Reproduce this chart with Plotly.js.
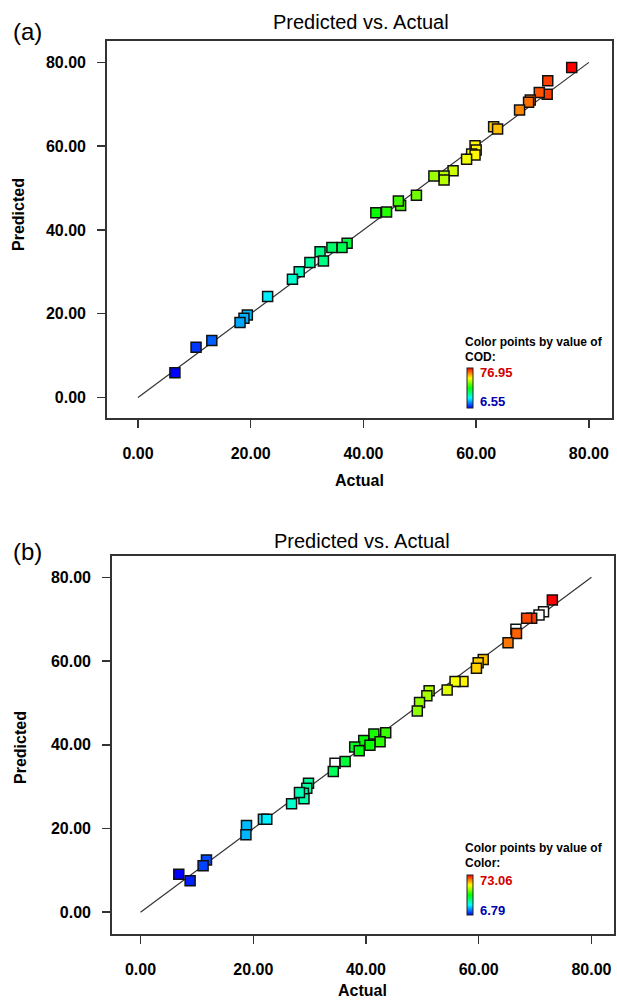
<!DOCTYPE html>
<html>
<head>
<meta charset="utf-8">
<script src="https://cdn.plot.ly/plotly-3.0.1.min.js"></script>
<style>
html,body{margin:0;padding:0;background:#fff;}
#chart{width:617px;height:1002px;}
</style>
</head>
<body>
<div id="chart"></div>
<script>
// ---- Panel (a): COD ----
const actualA = [76.95, 72.7, 72.6, 71.2, 69.6, 69.3, 67.7, 63.1, 63.8,
  59.8, 60.0, 59.2, 59.8, 58.3, 55.9, 54.3, 54.3, 52.5, 49.4, 46.6, 46.2, 44.1, 42.2,
  37.1, 36.2, 34.4, 32.3, 32.9, 30.5, 28.6, 27.4, 23.0, 19.4, 18.8, 18.1, 13.1, 10.3, 6.55];
const predictedA = [78.8, 75.6, 72.4, 72.8, 71.0, 70.5, 68.6, 64.6, 64.1,
  60.1, 59.1, 58.1, 57.9, 56.9, 54.1, 52.9, 51.9, 52.9, 48.3, 45.8, 46.9, 44.3, 44.1,
  36.8, 35.8, 35.8, 34.8, 32.6, 32.2, 30.0, 28.2, 24.1, 19.7, 18.9, 17.9, 13.6, 12.0, 5.9];

// ---- Panel (b): Color ----
const actualB = [73.06, 69.4, 68.5, 66.7, 65.2, 60.8, 59.9, 59.6, 57.2, 55.8, 54.4,
  51.2, 50.8, 49.5, 49.1, 43.5, 41.4, 42.5, 39.6, 40.7, 38.0, 38.8, 36.3, 34.2,
  29.8, 29.5, 28.9, 29.0, 28.2, 26.8, 21.8, 22.4, 18.8, 18.7, 11.7, 11.1, 6.79, 8.8];
const predictedB = [74.6, 70.2, 70.2, 66.6, 64.4, 60.4, 59.6, 58.3, 55.1, 55.1, 53.1,
  52.9, 51.7, 50.1, 48.1, 42.9, 42.6, 40.7, 41.0, 39.9, 39.5, 38.6, 36.0, 33.6,
  30.8, 29.6, 28.4, 27.1, 28.6, 25.9, 22.2, 22.2, 20.7, 18.5, 12.5, 11.1, 9.1, 7.5];
const hollowActualB = [71.5, 70.7, 66.6, 34.5];
const hollowPredictedB = [71.8, 71.0, 67.6, 35.6];

// reference line and tick values
const lineXY = [0, 80];
const tickVals = [0, 20, 40, 60, 80];
const panelLabels = ['(a)', '(b)'];
const chartTitle = 'Predicted vs. Actual';
const xTitle = 'Actual';
const yTitle = 'Predicted';
const legendHead = 'Color points by value of';
const responseNames = ['COD:', 'Color:'];

const W = 617, H = 1002;
const px = v => v / W;
const py = v => 1 - v / H;

const scale = [[0,'rgb(0,0,255)'],[0.25,'rgb(0,255,255)'],[0.5,'rgb(0,255,0)'],[0.75,'rgb(255,255,0)'],[1,'rgb(255,0,0)']];

const markerLine = {color:'#111', width:1.5};

const traces = [
  {x: lineXY, y: lineXY, xaxis:'x', yaxis:'y', mode:'lines', line:{color:'#333', width:1.2}, hoverinfo:'skip'},
  {x: actualA, y: predictedA, xaxis:'x', yaxis:'y', mode:'markers',
   marker:{symbol:'square', size:10, color: actualA, coloraxis:'coloraxis', line: markerLine}},
  {x: lineXY, y: lineXY, xaxis:'x2', yaxis:'y2', mode:'lines', line:{color:'#333', width:1.2}, hoverinfo:'skip'},
  {x: hollowActualB, y: hollowPredictedB, xaxis:'x2', yaxis:'y2', mode:'markers',
   marker:{symbol:'square', size:10, color:'#fff', line: markerLine}},
  {x: actualB, y: predictedB, xaxis:'x2', yaxis:'y2', mode:'markers',
   marker:{symbol:'square', size:10, color: actualB, coloraxis:'coloraxis2', line: markerLine}}
];

const tickFont = {family:'Liberation Sans, Arial, sans-serif', size:16, color:'#000', weight:'bold'};
function axis(domain, range, standoff) {
  return {
    domain: domain, range: range, autorange:false,
    showgrid:false, zeroline:false,
    showline:true, linecolor:'#333', linewidth:1.8, mirror:true,
    ticks:'outside', ticklen:8, tickwidth:1.5, tickcolor:'#333',
    tickvals: tickVals, tickformat:'.2f', tickfont: tickFont,
    ticklabelstandoff: standoff, fixedrange:true
  };
}

function cbar(yc) {
  return {
    x: px(467), xanchor:'left', xpad:0, ypad:0,
    y: yc, yanchor:'middle', len:40, lenmode:'pixels',
    thickness:6, thicknessmode:'pixels',
    outlinewidth:1, outlinecolor:'#222',
    showticklabels:false, ticks:''
  };
}

const fmt = v => v.toFixed(2);
const minA = Math.min(...actualA), maxA = Math.max(...actualA);
const minB = Math.min(...actualB), maxB = Math.max(...actualB);

const annFont = (s, w, c) => ({family:'Liberation Sans, Arial, sans-serif', size:s, color:c||'#000', weight:w||'normal'});
function ann(text, x, y, font, extra) {
  return Object.assign({text:text, x:x, y:y, xref:'paper', yref:'paper', showarrow:false,
    xanchor:'center', yanchor:'middle', font:font}, extra||{});
}

const annotations = [
  ann(chartTitle, px(361), py(22), annFont(20)),
  ann(chartTitle, px(362), py(541), annFont(20)),
  ann(panelLabels[0], px(27), py(31), annFont(24)),
  ann(panelLabels[1], px(27), py(551), annFont(24)),
  ann(yTitle, px(18), py(215), annFont(16,'bold'), {textangle:-90}),
  ann(yTitle, px(20), py(748), annFont(16,'bold'), {textangle:-90}),
  ann(xTitle, px(360), py(480), annFont(16,'bold')),
  ann(xTitle, px(362), py(990), annFont(16,'bold')),
  ann(legendHead, px(463), py(342), annFont(12,'bold'), {xanchor:'left'}),
  ann(responseNames[0], px(463), py(357), annFont(12,'bold'), {xanchor:'left'}),
  ann(fmt(maxA), px(478), py(373), annFont(13,'bold','#d00000'), {xanchor:'left'}),
  ann(fmt(minA), px(478), py(402), annFont(13,'bold','#0000b0'), {xanchor:'left'}),
  ann(legendHead, px(463), py(848), annFont(12,'bold'), {xanchor:'left'}),
  ann(responseNames[1], px(463), py(863), annFont(12,'bold'), {xanchor:'left'}),
  ann(fmt(maxB), px(478), py(880), annFont(13,'bold','#d00000'), {xanchor:'left'}),
  ann(fmt(minB), px(478), py(910), annFont(13,'bold','#0000b0'), {xanchor:'left'})
];

const layout = {
  width: W, height: H,
  margin:{l:0, r:0, t:0, b:0},
  paper_bgcolor:'#fff', plot_bgcolor:'#fff',
  showlegend:false,
  font:{family:'Liberation Sans, Arial, sans-serif'},
  xaxis: axis([px(107), px(612)], [-5.5, 84.1], 12),
  yaxis: axis([py(418), py(41)], [-4.9, 85.1], 8),
  xaxis2: Object.assign(axis([px(112), px(614)], [-5.06, 84.0], 12), {anchor:'y2'}),
  yaxis2: Object.assign(axis([py(934), py(556)], [-5.2, 85.1], 8), {anchor:'x2'}),
  coloraxis: {cmin:minA, cmax:maxA, colorscale:scale, colorbar: cbar(py(388))},
  coloraxis2: {cmin:minB, cmax:maxB, colorscale:scale, colorbar: cbar(py(895))},
  annotations: annotations
};
layout.xaxis.anchor = 'y';
layout.yaxis.anchor = 'x';

Plotly.newPlot('chart', traces, layout, {displayModeBar:false, staticPlot:true});
</script>
</body>
</html>
